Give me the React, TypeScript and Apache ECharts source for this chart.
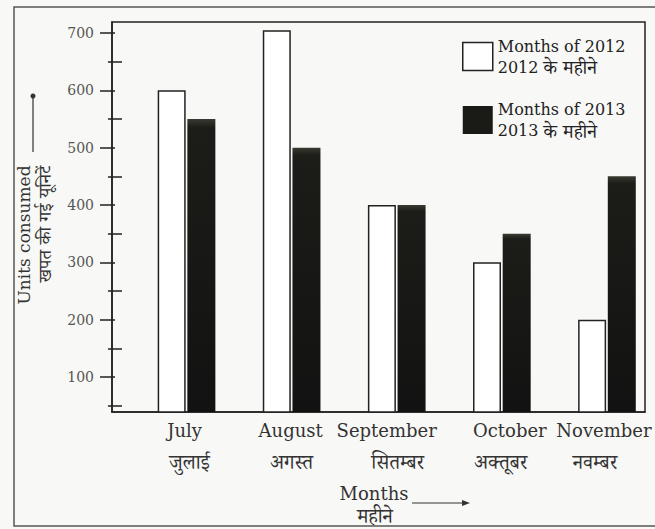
import React, { useEffect, useRef } from "react";
import * as echarts from "echarts";

const months = ["July", "August", "September", "October", "November"];
const monthsHindi = ["जुलाई", "अगस्त", "सितम्बर", "अक्तूबर", "नवम्बर"];
const units2012 = [600, 705, 400, 300, 200];
const units2013 = [550, 500, 400, 350, 450];
const yLabelValues = [100, 200, 300, 400, 500, 600, 700];
const yMinorTicks = [50, 150, 250, 350, 450, 550, 650];
const seriesNames = ["Months of 2012", "Months of 2013"];
const legendYears = ["2012", "2013"];
const legendHindi = ["के महीने", "के महीने"];

const SERIF = "'DejaVu Serif', 'Liberation Serif', 'Noto Serif Devanagari', 'Noto Sans Devanagari', serif";

// horizontal nudges (px) of each label line, layout only
const enNudge = [-2, -1, -10, 8, -3];
const hiNudge = [3, 0, 1, -1, -12];

function pad(d: number) {
  return d >= 0 ? [0, 0, 0, 2 * d] : [0, -2 * d, 0, 0];
}

export default function App() {
  const ref = useRef<HTMLDivElement>(null);
  useEffect(() => {
    if (!ref.current) return;
    const chart = echarts.init(ref.current, null, { renderer: "svg" });
    const yMin = 38.9;
    const yMax = 719.2;
    const baseY = {
      type: "value",
      position: "left",
      min: yMin,
      max: yMax,
      splitLine: { show: false },
    };
    const rich: Record<string, any> = {};
    months.forEach((_, i) => {
      rich["e" + i] = { fontFamily: SERIF, fontSize: 18, lineHeight: 32, color: "#333", padding: pad(enNudge[i]) };
      rich["h" + i] = { fontFamily: SERIF, fontSize: 20, lineHeight: 32, color: "#333", padding: pad(hiNudge[i]) };
    });
    chart.setOption({
      animation: false,
      backgroundColor: "#f8f8f6",
      grid: {
        left: 112,
        top: 22,
        right: 10,
        bottom: 117,
        show: true,
        borderColor: "#222",
        borderWidth: 1.5,
        backgroundColor: "transparent",
        outerBoundsMode: "none",
      },
      legend: {
        orient: "vertical",
        left: 462,
        top: 38,
        padding: 0,
        itemWidth: 30,
        itemHeight: 28,
        itemGap: 25,
        selectedMode: false,
        formatter: (n: string) => {
          const i = seriesNames.indexOf(n);
          return "{a|" + n + "}\n{a|" + legendYears[i] + " }{b|" + legendHindi[i] + "}";
        },
        textStyle: {
          fontFamily: SERIF,
          fontSize: 16,
          color: "#222",
          rich: {
            a: { fontFamily: SERIF, fontSize: 16, lineHeight: 21, color: "#222" },
            b: { fontFamily: SERIF, fontSize: 19, lineHeight: 21, color: "#222" },
          },
        },
        data: [
          { name: seriesNames[0], icon: "rect", itemStyle: { color: "#ffffff", borderColor: "#222", borderWidth: 1.5 } },
          { name: seriesNames[1], icon: "rect", itemStyle: { color: "#1a1a17", borderColor: "#1a1a17", borderWidth: 0 } },
        ],
      },
      xAxis: {
        type: "value",
        min: 0.291,
        max: 5.362,
        splitLine: { show: false },
        axisLine: { show: true, lineStyle: { color: "#222", width: 1.5 } },
        axisTick: { show: false },
        axisLabel: {
          customValues: months.map((_, i) => i + 1),
          formatter: (v: number) => {
            const i = Math.round(v) - 1;
            return "{e" + i + "|" + months[i] + "}\n{h" + i + "|" + monthsHindi[i] + "}";
          },
          margin: 2,
          fontFamily: SERIF,
          fontSize: 18,
          lineHeight: 32,
          color: "#333",
          hideOverlap: false,
          rich,
        },
      },
      yAxis: [
        {
          ...baseY,
          axisLine: { show: true, lineStyle: { color: "#222", width: 1.5 } },
          axisTick: { show: true, inside: false, length: 12, customValues: yLabelValues, lineStyle: { color: "#222", width: 1.5 } },
          axisLabel: { customValues: yLabelValues, margin: 18, fontFamily: SERIF, fontSize: 14, color: "#555" },
        },
        {
          ...baseY,
          axisLine: { show: false },
          axisTick: { show: true, inside: true, length: 10, customValues: yMinorTicks, lineStyle: { color: "#222", width: 1.5 } },
          axisLabel: { show: false },
        },
        {
          ...baseY,
          axisLine: { show: false },
          axisTick: { show: true, inside: false, length: 4, customValues: yMinorTicks, lineStyle: { color: "#222", width: 1.5 } },
          axisLabel: { show: false },
        },
        {
          ...baseY,
          axisLine: { show: false },
          axisTick: { show: true, inside: true, length: 3, customValues: yLabelValues, lineStyle: { color: "#222", width: 1.5 } },
          axisLabel: { show: false },
        },
      ],
      series: [
        {
          name: seriesNames[0],
          type: "bar",
          yAxisIndex: 0,
          barWidth: 28,
          barGap: "6%",
          data: months.map((_, i) => [i + 1, units2012[i]]),
          itemStyle: { color: "#ffffff", borderColor: "#222", borderWidth: 1.5 },
        },
        {
          name: seriesNames[1],
          type: "bar",
          yAxisIndex: 0,
          barWidth: 28,
          barGap: "6%",
          data: months.map((_, i) => [i + 1, units2013[i]]),
          itemStyle: {
            color: {
              type: "linear", x: 0, y: 0, x2: 0, y2: 1,
              colorStops: [
                { offset: 0, color: "#3a3a32" },
                { offset: 0.03, color: "#1c1c18" },
                { offset: 1, color: "#121212" },
              ],
            },
          },
        },
      ],
      graphic: [
        {
          type: "rect",
          shape: { x: 14, y: 7, width: 660, height: 519 },
          style: { fill: "none", stroke: "#555", lineWidth: 1.5 },
          silent: true,
          z: -1,
        },
        {
          type: "text",
          x: 24,
          y: 235,
          rotation: Math.PI / 2,
          style: { text: "Units consumed", fontFamily: SERIF, fontSize: 17, fill: "#333", align: "center", verticalAlign: "middle" },
        },
        {
          type: "text",
          x: 44,
          y: 224,
          rotation: Math.PI / 2,
          style: { text: "खपत की गई यूनिटें", fontFamily: SERIF, fontSize: 18, fill: "#333", align: "center", verticalAlign: "middle" },
        },
        {
          type: "line",
          shape: { x1: 33, y1: 152, x2: 33, y2: 98 },
          style: { stroke: "#333", lineWidth: 1.2 },
        },
        {
          type: "circle",
          shape: { cx: 33, cy: 96, r: 2.5 },
          style: { fill: "#333" },
        },
        {
          type: "text",
          x: 374,
          y: 493,
          style: { text: "Months", fontFamily: SERIF, fontSize: 18, fill: "#333", align: "center", verticalAlign: "middle" },
        },
        {
          type: "text",
          x: 375,
          y: 516,
          style: { text: "महीने", fontFamily: SERIF, fontSize: 20, fill: "#333", align: "center", verticalAlign: "middle" },
        },
        {
          type: "line",
          shape: { x1: 412, y1: 503, x2: 464, y2: 503 },
          style: { stroke: "#333", lineWidth: 1.2 },
        },
        {
          type: "polygon",
          shape: { points: [[470, 503], [462, 500], [462, 506]] },
          style: { fill: "#333" },
        },
      ],
    });
    return () => chart.dispose();
  }, []);
  return (
    <div
      ref={ref}
      style={{ position: "absolute", left: 0, top: 0, width: 655, height: 529 }}
    />
  );
}
